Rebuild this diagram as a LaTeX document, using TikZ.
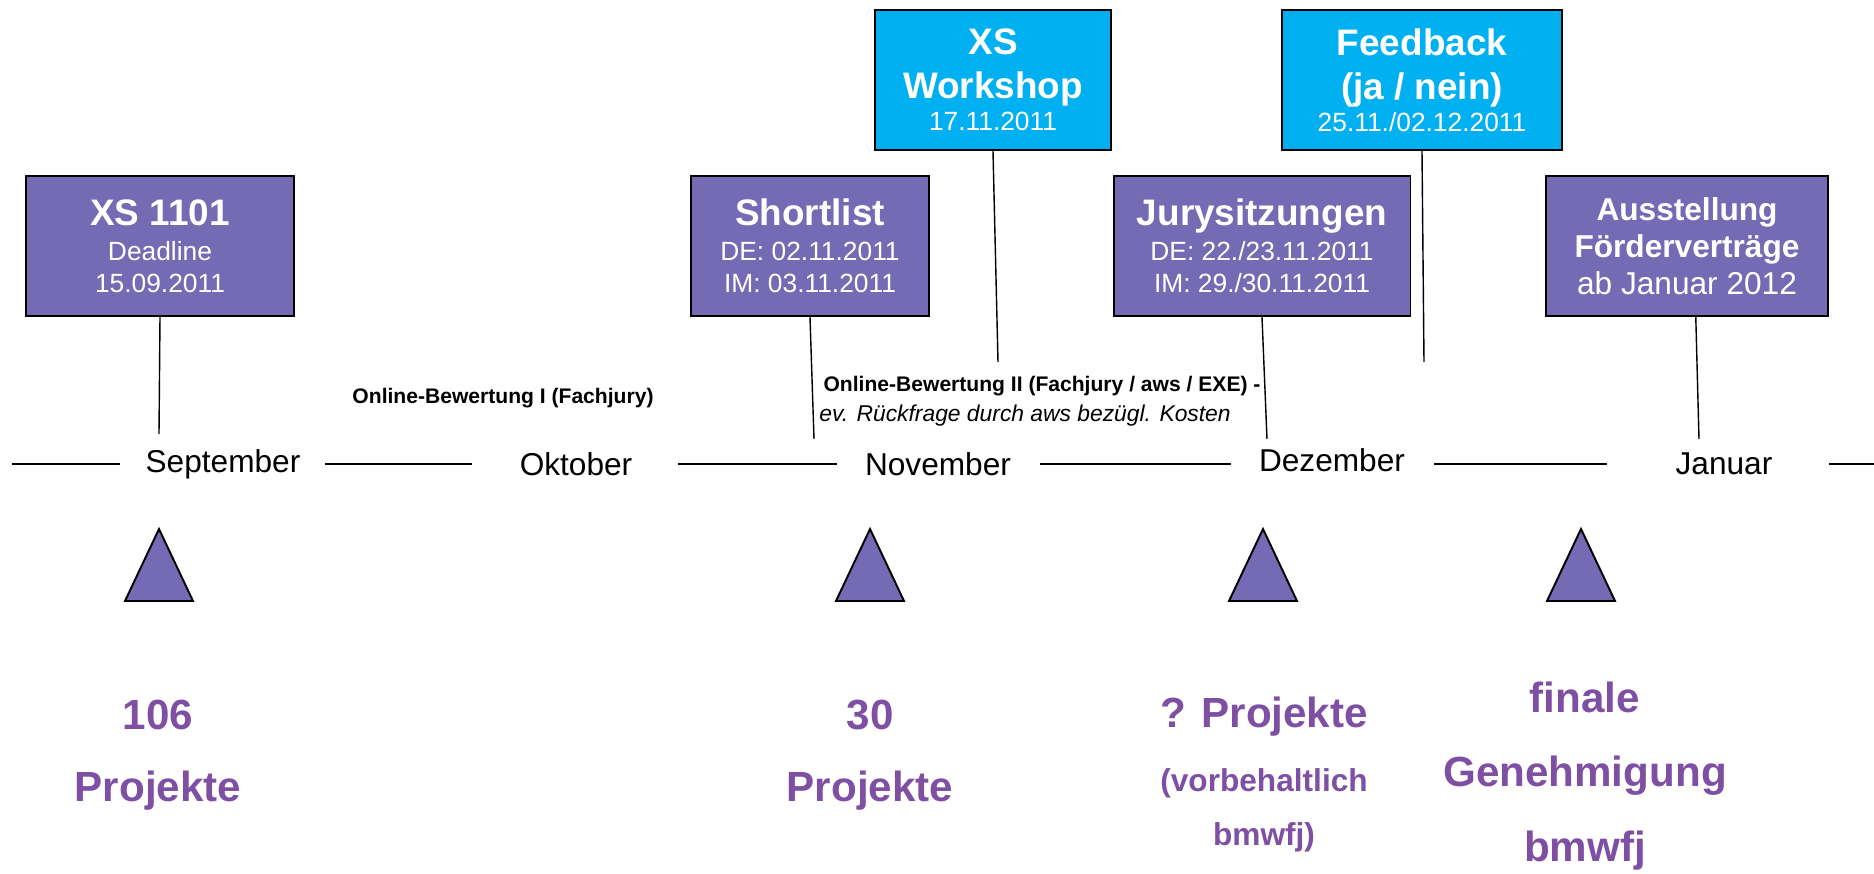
\documentclass[tikz,border=0pt]{standalone}
\usepackage{fontspec}
\setmainfont{Liberation Sans}
\definecolor{lavender}{RGB}{117,107,181}
\definecolor{skyblue}{RGB}{0,176,240}
\definecolor{plum}{RGB}{126,79,163}
\newcommand{\evtitle}[1]{{\fontsize{21}{24}\selectfont\bfseries #1}}

\begin{document}
\begin{tikzpicture}[x=0.02cm, y=-0.02cm,
    evbox/.style={draw=black, line width=1.1pt, fill=lavender, text=white, align=center,
      minimum height=80pt, inner sep=0pt, font=\fontsize{15}{18}\selectfont},
    topbox/.style={evbox, fill=skyblue},
    pin/.style={line width=0.8pt},
    axis/.style={line width=0.8pt},
    month/.style={font=\fontsize{18}{22}\selectfont, inner sep=0pt},
    marker/.style={draw=black, line width=1.1pt, fill=lavender, line join=miter},
    count/.style={text=plum, font=\fontsize{24}{28}\selectfont\bfseries, inner sep=0pt}]
  \useasboundingbox (0,0) rectangle (1874,874);

  % timeline
  \node[month] (sep) at (223,464) {September};
  \node[month] (okt) at (576,464) {Oktober};
  \node[month] (nov) at (938,464) {November};
  \node[month] (dez) at (1332,460) {Dezember};
  \node[month] (jan) at (1724,464) {Januar};
  \foreach \a/\b in {12/120, 325/472, 678/837, 1040/1231, 1434/1607, 1829/1874} {
      \draw[axis] (\a,464) -- (\b,464);
  }

  % boxes
  \node[evbox, minimum width=153pt] (xs) at (160,246) {\evtitle{XS 1101}\\[2pt] Deadline\\ 15.09.2011};
  \node[evbox, minimum width=135.5pt] (short) at (810,246) {\evtitle{Shortlist}\\[2pt] DE: 02.11.2011\\ IM: 03.11.2011};
  \node[topbox, minimum width=134.3pt] (work) at (993,80) {\evtitle{XS}\\[7pt] \evtitle{Workshop}\\ 17.11.2011};
  \node[evbox, minimum width=169pt] (jury) at (1262,246) {\evtitle{Jurysitzungen}\\[2pt] DE: 22./23.11.2011\\ IM: 29./30.11.2011};
  \node[topbox, minimum width=159.4pt] (feed) at (1422,80) {\evtitle{Feedback}\\[7pt] \evtitle{(ja / nein)}\\ 25.11./02.12.2011};
  \node[evbox, minimum width=161pt, font=\fontsize{18}{21}\selectfont] (aus) at (1687,246)
      {\textbf{Ausstellung}\\ \textbf{Förderverträge}\\ ab Januar 2012};

  \coordinate (xs-end) at (159,434);
  \coordinate (short-end) at (814,439);
  \coordinate (work-end) at (998,362);
  \coordinate (jury-end) at (1267,439);
  \coordinate (feed-end) at (1424,362);
  \coordinate (aus-end) at (1699,439);
  \foreach \i in {xs, short, work, jury, feed} {
      \draw[pin] (\i.south) -- (\i-end);
  }
  \draw[pin] ([xshift=5pt]aus.south) -- (aus-end);

  % online phases
  \node[font=\fontsize{12}{14}\selectfont\bfseries] (ob1) at (503,398) {Online-Bewertung I (Fachjury)};
  \node[font=\fontsize{12}{14}\selectfont\bfseries] (ob2) at (1042,386) {Online-Bewertung II (Fachjury / aws / EXE) -};
  \node[font=\fontsize{13}{15}\selectfont\itshape] (ask) at (1025,416) {ev. Rückfrage durch aws bezügl. Kosten};

  % markers
  \foreach \x in {159, 870, 1263, 1581} {
      \draw[marker] (\x,529) -- (\x+34,601) -- (\x-34,601) -- cycle;
  }

  % counts
  \node[count] (n106) at (158,715) {106};
  \node[count] (p106) at (158,791) {Projekte};
  \node[count] (n30) at (870,715) {30};
  \node[count] (p30) at (870,791) {Projekte};
  \node[count] (nq) at (1264,717) {? Projekte};
  \node[count, font=\fontsize{18}{22}\selectfont\bfseries] (vb) at (1264,783) {(vorbehaltlich};
  \node[count, font=\fontsize{18}{22}\selectfont\bfseries] (bm) at (1264,837) {bmwfj)};
  \node[count] (fin) at (1585,697) {finale};
  \node[count] (gen) at (1585,776) {Genehmigung};
  \node[count] (bmf) at (1585,851) {bmwfj};
\end{tikzpicture}
\end{document}
